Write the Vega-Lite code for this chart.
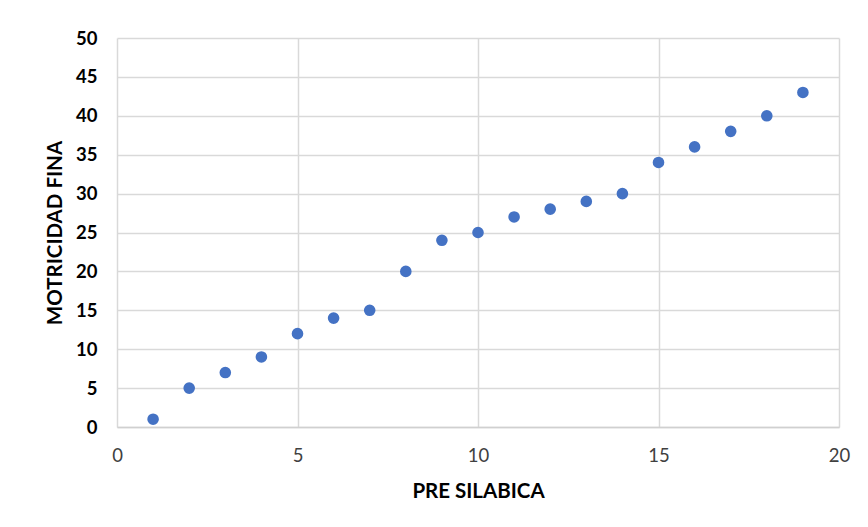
{
  "$schema": "https://vega.github.io/schema/vega-lite/v6.json",
  "width": 722,
  "height": 389,
  "autosize": {"type": "none"},
  "padding": {"left": 117, "top": 38, "right": 29, "bottom": 100},
  "background": "white",
  "data": {"values": [
    {"x": 1, "y": 1}, {"x": 2, "y": 5}, {"x": 3, "y": 7}, {"x": 4, "y": 9},
    {"x": 5, "y": 12}, {"x": 6, "y": 14}, {"x": 7, "y": 15}, {"x": 8, "y": 20},
    {"x": 9, "y": 24}, {"x": 10, "y": 25}, {"x": 11, "y": 27}, {"x": 12, "y": 28},
    {"x": 13, "y": 29}, {"x": 14, "y": 30}, {"x": 15, "y": 34}, {"x": 16, "y": 36},
    {"x": 17, "y": 38}, {"x": 18, "y": 40}, {"x": 19, "y": 43}
  ]},
  "mark": {"type": "circle", "size": 135, "color": "#4472C4", "opacity": 1},
  "encoding": {
    "x": {
      "field": "x", "type": "quantitative",
      "scale": {"domain": [0, 20], "nice": false, "zero": false},
      "axis": {
        "title": "PRE SILABICA", "values": [0, 5, 10, 15, 20],
        "titleFont": "Lato", "titleFontSize": 20.5, "titleFontWeight": "bold", "titleColor": "#000000",
        "titlePadding": 17,
        "labelFont": "Lato", "labelFontSize": 18.5, "labelColor": "#404040", "labelFontWeight": "normal",
        "labelPadding": 19, "ticks": false, "labelFlush": false,
        "domainColor": "#d0d0d0", "domainWidth": 1.5,
        "grid": true, "gridColor": "#d9d9d9", "gridWidth": 1.5
      }
    },
    "y": {
      "field": "y", "type": "quantitative",
      "scale": {"domain": [0, 50], "nice": false},
      "axis": {
        "title": "MOTRICIDAD FINA", "values": [0, 5, 10, 15, 20, 25, 30, 35, 40, 45, 50],
        "titleFont": "Lato", "titleFontSize": 20.5, "titleFontWeight": "bold", "titleColor": "#000000",
        "titlePadding": 10,
        "labelFont": "Lato", "labelFontSize": 18.5, "labelColor": "#000000", "labelFontWeight": "bold",
        "labelPadding": 20, "ticks": false, "labelFlush": false,
        "domain": false,
        "grid": true, "gridColor": "#d9d9d9", "gridWidth": 1.5
      }
    }
  },
  "config": {"view": {"stroke": null}}
}
